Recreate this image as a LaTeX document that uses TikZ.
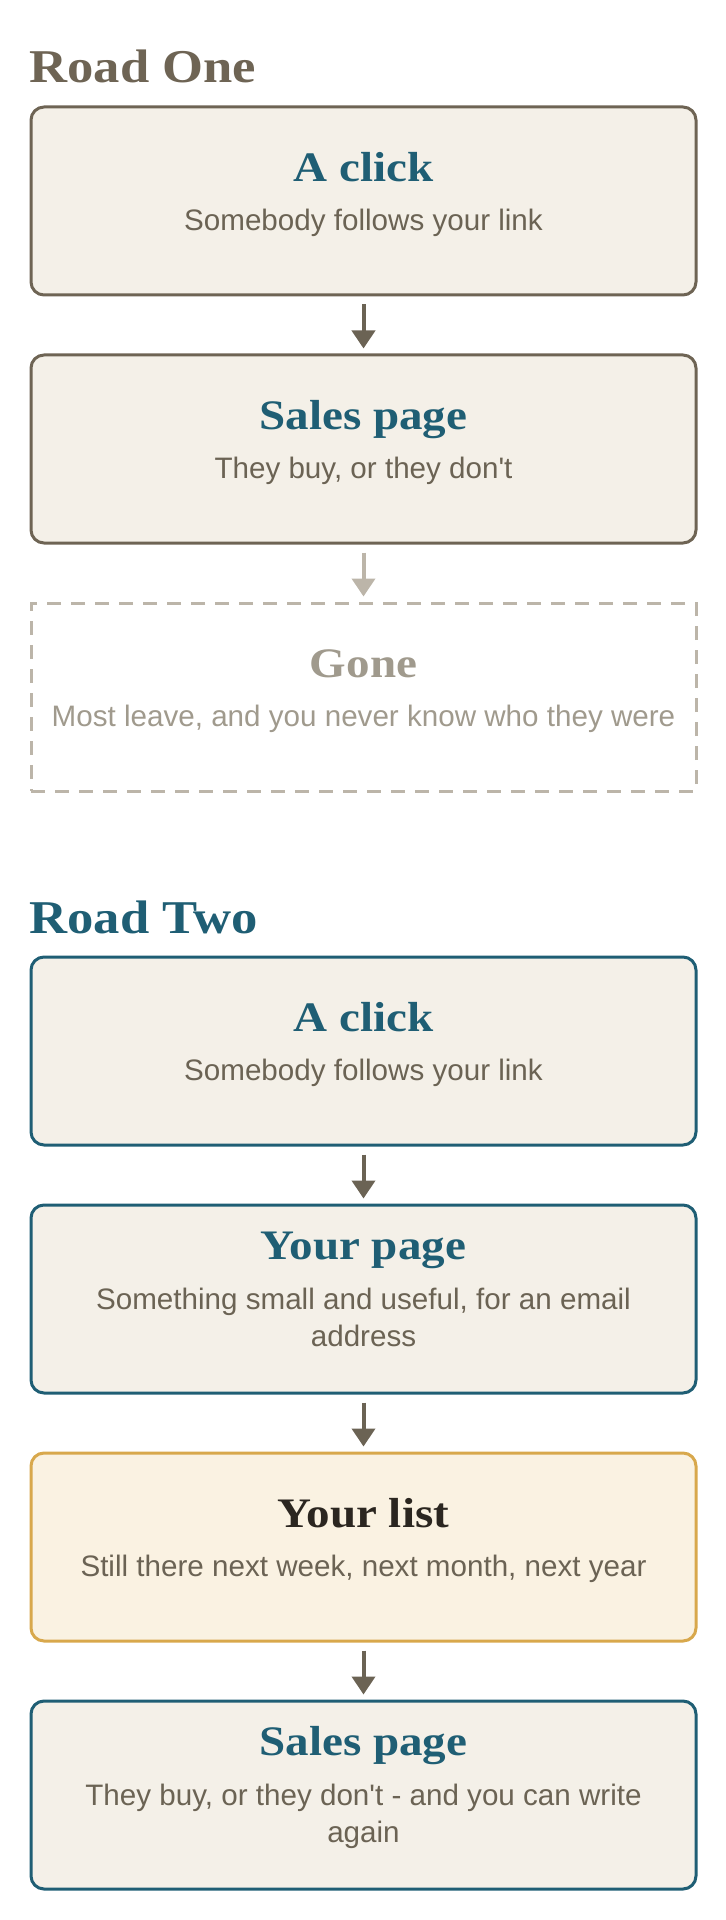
\documentclass[tikz,border=0pt]{standalone}
\usepackage{fontspec}
\setmainfont{Liberation Sans}[Ligatures=TeXOff]
\newfontfamily\headfont[FakeStretch=1.12]{Liberation Serif Bold}
\usetikzlibrary{arrows.meta}
\definecolor{ink}{HTML}{6B6354}
\definecolor{roadbrown}{HTML}{6E6454}
\definecolor{roadteal}{HTML}{1F5E74}
\definecolor{paper}{HTML}{F4F0E8}
\definecolor{goldline}{HTML}{D8A84C}
\definecolor{goldfill}{HTML}{FAF2E2}
\definecolor{fade}{HTML}{A09A8D}
\definecolor{fadeline}{HTML}{BCB5A9}
\definecolor{listink}{HTML}{2B2620}
\tikzset{
  card/.style={draw=roadbrown, fill=paper, line width=1.5pt, rounded corners=6.5pt,
    minimum width=332.5pt, minimum height=94pt, inner sep=0pt},
  tealcard/.style={card, draw=roadteal},
  goldcard/.style={card, draw=goldline, fill=goldfill},
  gonecard/.style={card, draw=fadeline, fill=none, sharp corners, dash pattern=on 7pt off 5pt},
  cardtitle/.style={font=\headfont\fontsize{21pt}{25pt}\selectfont, text=roadteal, inner sep=0pt, anchor=base},
  cardtext/.style={font=\fontsize{14.8pt}{18.5pt}\selectfont, text=ink, inner sep=0pt, anchor=base, align=center},
  roadhead/.style={font=\headfont\fontsize{23.5pt}{27pt}\selectfont, inner sep=0pt, anchor=base west},
  flow/.style={draw=ink, line width=2pt, -{Triangle[width=11.5pt,length=9pt]}, shorten <=4pt, shorten >=2.5pt}
}
\begin{document}
\begin{tikzpicture}[x=0.5pt,y=-0.5pt]
\useasboundingbox (0,0) rectangle (726,1920);
% road one
\node[roadhead, text=roadbrown] (head1) at (29,83) {Road One};
\node[card] (r1click) at (363.5,201) {};
\node[cardtitle] (r1click-t) at ([yshift=-38pt]r1click.north) {A click};
\node[cardtext] (r1click-b) at ([yshift=-62.5pt]r1click.north) {Somebody follows your link};
\node[card] (r1sales) at (363.5,449) {};
\node[cardtitle] (r1sales-t) at ([yshift=-38pt]r1sales.north) {Sales page};
\node[cardtext] (r1sales-b) at ([yshift=-62.5pt]r1sales.north) {They buy, or they don't};
\node[gonecard] (r1gone) at (363.5,697) {};
\node[cardtitle, text=fade] (r1gone-t) at ([yshift=-38pt]r1gone.north) {Gone};
\node[cardtext, text=fade] (r1gone-b) at ([yshift=-62.5pt]r1gone.north) {Most leave, and you never know who they were};
% road two
\node[roadhead, text=roadteal] (head2) at (29,933) {Road Two};
\node[tealcard] (r2click) at (363.5,1051) {};
\node[cardtitle] (r2click-t) at ([yshift=-38pt]r2click.north) {A click};
\node[cardtext] (r2click-b) at ([yshift=-62.5pt]r2click.north) {Somebody follows your link};
\node[tealcard] (r2page) at (363.5,1299) {};
\node[cardtitle] (r2page-t) at ([yshift=-28pt]r2page.north) {Your page};
\node[cardtext] (r2page-b) at ([yshift=-71.5pt]r2page.north) {Something small and useful, for an email\\address};
\node[goldcard] (r2list) at (363.5,1547) {};
\node[cardtitle, text=listink] (r2list-t) at ([yshift=-38pt]r2list.north) {Your list};
\node[cardtext] (r2list-b) at ([yshift=-62.5pt]r2list.north) {Still there next week, next month, next year};
\node[tealcard] (r2sales) at (363.5,1795) {};
\node[cardtitle] (r2sales-t) at ([yshift=-28pt]r2sales.north) {Sales page};
\node[cardtext] (r2sales-b) at ([yshift=-71.5pt]r2sales.north) {They buy, or they don't - and you can write\\again};
% arrows
\foreach \a/\b in {r1click/r1sales, r2click/r2page, r2page/r2list, r2list/r2sales}
  \draw[flow] (\a) -- (\b);
\draw[flow, draw=fadeline] (r1sales) -- (r1gone);
\end{tikzpicture}
\end{document}
